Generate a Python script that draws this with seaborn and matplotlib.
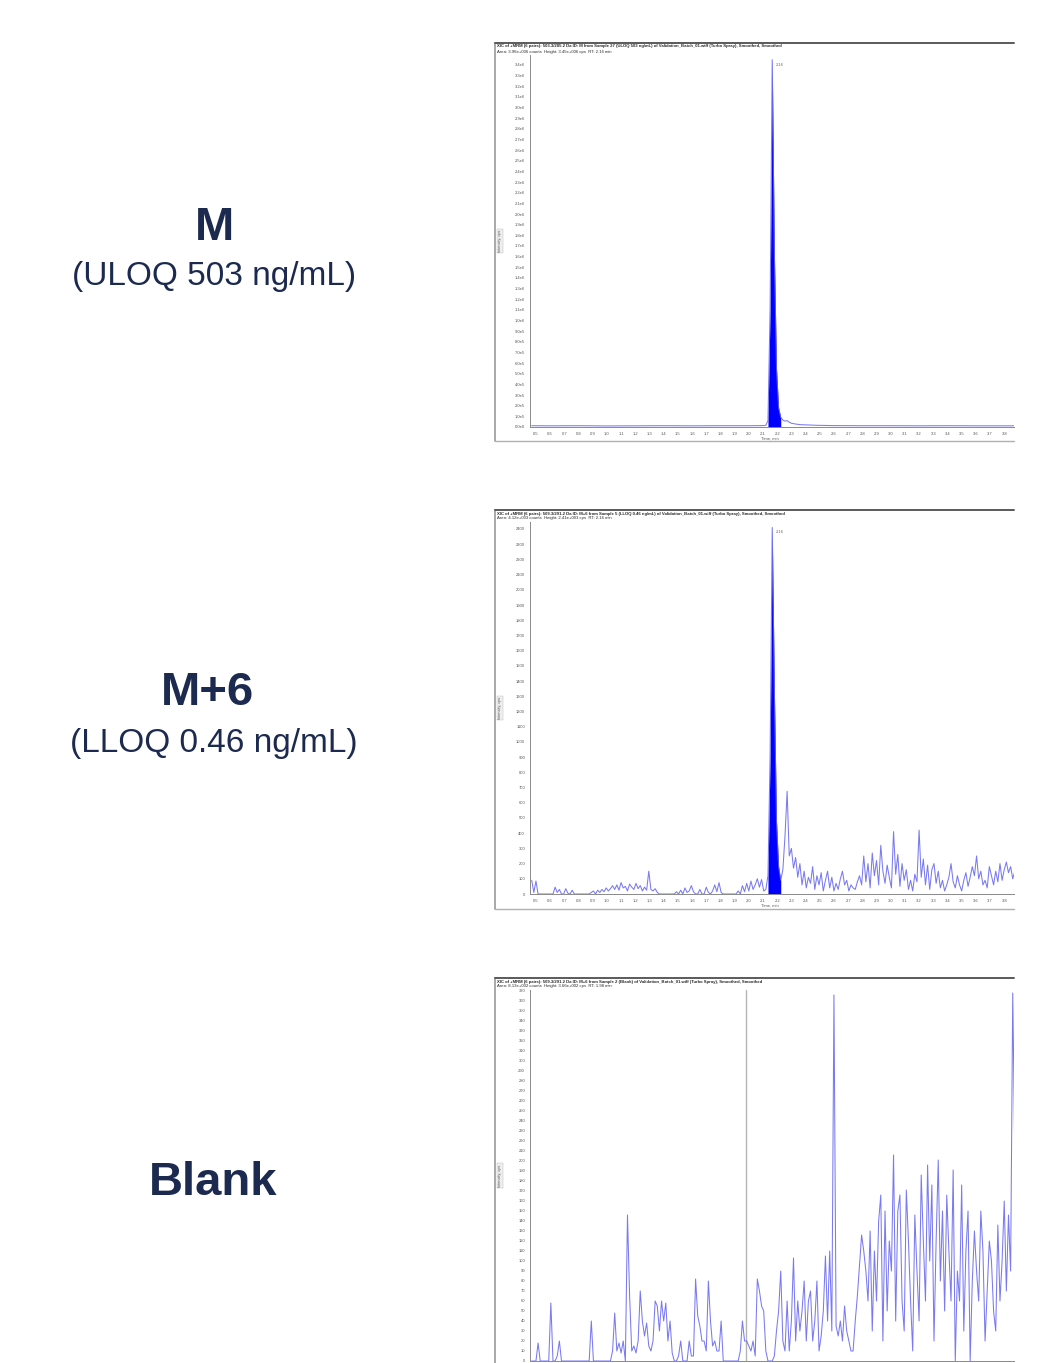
import numpy as np
import matplotlib
matplotlib.use("Agg")
import matplotlib.pyplot as plt
import seaborn as sns
from matplotlib.lines import Line2D
from matplotlib.ticker import FuncFormatter, MultipleLocator

# ---------------------------------------------------------------- data
# scan grid shared by the M+6 and Blank traces (min)
scan_times = np.round(0.47 + 0.015 * np.arange(228), 3)

# M, ULOQ: sparse trace (baseline + integrated peak), intensity in cps
m_times = [0.47, 0.60, 0.80, 1.00, 1.20, 1.40, 1.60, 1.80, 2.00, 2.105,
           2.12, 2.135, 2.15, 2.165, 2.18, 2.195, 2.21, 2.225, 2.24, 2.255,
           2.27, 2.285, 2.30, 2.33, 2.36, 2.40, 2.48, 2.60, 2.80, 3.00,
           3.20, 3.40, 3.60, 3.875]
m_values = [1.2e4, 1.1e4, 1.2e4, 1.0e4, 1.1e4, 1.2e4, 1.1e4, 1.2e4, 1.2e4, 1.3e4,
            1.6e4, 6.0e4, 1.1e6, 3.45e6, 1.65e6, 5.5e5, 1.8e5, 9.0e4, 6.5e4, 5.5e4,
            6.0e4, 4.5e4, 3.5e4, 2.8e4, 2.2e4, 2.0e4, 1.6e4, 1.3e4, 1.2e4, 1.2e4,
            1.1e4, 1.2e4, 1.1e4, 1.1e4]

# M+6, LLOQ (cps)
m6_values = [
    90, 10, 85, 0, 0, 0, 0, 0, 0, 0,
    0, 45, 10, 30, 0, 0, 35, 5, 0, 25,
    0, 0, 0, 0, 0, 0, 0, 0, 10, 20,
    0, 25, 10, 30, 15, 40, 20, 35, 55, 30,
    60, 25, 75, 40, 50, 20, 65, 45, 30, 70,
    35, 55, 20, 45, 25, 150, 30, 20, 35, 10,
    0, 0, 0, 0, 0, 0, 0, 0, 15, 0,
    25, 0, 40, 10, 20, 55, 15, 0, 0, 30,
    0, 0, 45, 10, 0, 20, 60, 15, 75, 10,
    0, 0, 0, 0, 0, 0, 0, 20, 0, 55,
    15, 70, 20, 85, 30, 60, 100, 45, 95, 20,
    30, 120, 900, 2410, 1350, 480, 180, 90, 160, 380,
    675, 250, 300, 170, 240, 110, 200, 60, 150, 40,
    110, 70, 180, 30, 120, 60, 140, 20, 90, 150,
    40, 110, 20, 70, 30, 100, 150, 60, 90, 20,
    60, 40, 30, 80, 120, 60, 250, 80, 200, 40,
    270, 120, 220, 60, 320, 150, 70, 190, 110, 40,
    410, 130, 260, 50, 200, 90, 160, 30, 90, 20,
    130, 80, 420, 110, 230, 60, 190, 30, 160, 200,
    70, 150, 40, 90, 20, 60, 110, 200, 80, 40,
    120, 60, 20, 90, 140, 50, 110, 180, 120, 250,
    100, 150, 60, 90, 40, 180, 120, 60, 150, 80,
    200, 90, 160, 210, 140, 180, 100, 150,
]

# Blank (cps)
blank_values = [
    0, 0, 0, 18, 0, 0, 0, 0, 0, 58,
    0, 0, 5, 20, 0, 0, 0, 0, 0, 0,
    0, 0, 0, 0, 0, 0, 0, 0, 40, 0,
    0, 0, 0, 0, 0, 0, 0, 0, 10, 48,
    10, 18, 8, 20, 0, 146, 65, 10, 15, 8,
    20, 70, 40, 25, 38, 15, 10, 20, 60, 55,
    30, 60, 40, 58, 20, 40, 8, 0, 0, 5,
    20, 0, 0, 0, 20, 5, 5, 82, 45, 35,
    20, 20, 10, 80, 40, 15, 20, 10, 10, 40,
    0, 0, 0, 0, 0, 0, 0, 0, 10, 40,
    20, 20, 15, 10, 20, 5, 82, 70, 55, 50,
    10, 0, 0, 0, 5, 30, 50, 90, 20, 10,
    60, 10, 40, 103, 20, 60, 30, 50, 80, 20,
    60, 70, 20, 40, 80, 10, 25, 50, 105, 40,
    110, 30, 366, 35, 25, 40, 20, 55, 30, 20,
    10, 10, 40, 65, 95, 126, 110, 90, 60, 130,
    30, 110, 60, 140, 166, 20, 150, 50, 120, 90,
    206, 40, 150, 166, 60, 30, 171, 120, 60, 10,
    146, 90, 40, 186, 120, 60, 196, 100, 176, 20,
    120, 201, 80, 150, 50, 166, 110, 60, 191, 0,
    90, 60, 176, 30, 110, 150, 0, 80, 130, 90,
    60, 150, 110, 20, 70, 120, 100, 50, 30, 136,
    60, 100, 160, 70, 146, 90, 368, 200,
]

# integration windows (min) and retention-time labels
m_window = (2.135, 2.225)
m6_window = (2.135, 2.225)
apex_rt = 2.165
apex_label = "2.16"
blank_rt_marker = 1.98

# ---------------------------------------------------------------- figure
sns.set_style("white")
plt.rcParams['font.family'] = ['Liberation Sans', 'DejaVu Sans']

W, H = 1049, 1363
fig = plt.figure(figsize=(W / 100, H / 100), dpi=100)


def fx(px):
    return px / W


def fy(py):
    return 1 - py / H


TRACE = "#6262f0"
FILL = "#0000ff"
NAVY = "#1b2a4e"
XLIM = (0.458, 0.458 + 484 / 141.9)


def sci_fmt(v, pos):
    if abs(v) < 1e-9:
        return "0.0e0"
    e = int(np.floor(np.log10(abs(v)) + 1e-9))
    return f"{v / 10 ** e:.1f}e{e}"


def int_fmt(v, pos):
    return f"{v:.0f}"


def frame(top, bottom, header1, header2):
    # panel outline: left, top and bottom edges
    fig.add_artist(Line2D([fx(495), fx(495)], [fy(top), fy(bottom)],
                          transform=fig.transFigure, color="#9a9a9a", lw=1.2))
    fig.add_artist(Line2D([fx(495), fx(1014)], [fy(top), fy(top)],
                          transform=fig.transFigure, color="#5a5a5a", lw=1.4))
    if bottom < H:
        fig.add_artist(Line2D([fx(495), fx(1014)], [fy(bottom), fy(bottom)],
                              transform=fig.transFigure, color="#b0b0b0", lw=1.0))
    fig.text(fx(497), fy(top + 3.5), header1, fontsize=3.1, color="#2a2a2a",
             fontweight="bold", ha="left", va="center")
    fig.text(fx(497), fy(top + 8.5), header2, fontsize=3.1, color="#2a2a2a",
             ha="left", va="center")


def make_axes(top, bottom, ylim, step, fmt, show_x=True):
    ax = fig.add_axes([fx(530), fy(bottom), fx(1014) - fx(530), (bottom - top) / H])
    ax.set_xlim(*XLIM)
    ax.set_ylim(*ylim)
    ax.yaxis.set_major_locator(MultipleLocator(step))
    ax.yaxis.set_major_formatter(FuncFormatter(fmt))
    ax.xaxis.set_major_locator(MultipleLocator(0.1))
    ax.xaxis.set_major_formatter(FuncFormatter(lambda v, p: f"{v:.1f}"))
    ax.tick_params(axis="both", labelsize=3, length=2, width=0.4,
                   colors="#777777", labelcolor="#555555", pad=1.5)
    if not show_x:
        ax.tick_params(axis="x", labelbottom=False)
    for s in ("top", "right"):
        ax.spines[s].set_visible(False)
    for s in ("left", "bottom"):
        ax.spines[s].set_color("#8a8a8a")
        ax.spines[s].set_linewidth(0.7)
    ax.patch.set_alpha(0)
    # y-axis title
    fig.text(fx(500), fy((top + bottom) / 2), "Intensity, cps", fontsize=2.8,
             color="#555555", rotation=90, ha="center", va="center",
             bbox=dict(boxstyle="square,pad=0.3", fc="#eeeeee", ec="#bbbbbb", lw=0.3))
    if show_x:
        fig.text(fx(770), fy(bottom + 12), "Time, min", fontsize=3,
                 color="#555555", ha="center", va="center")
    return ax


def draw_trace(ax, t, y, window=None, label=None):
    t = np.asarray(t, dtype=float)
    y = np.asarray(y, dtype=float)
    if window is not None:
        sel = (t >= window[0] - 1e-9) & (t <= window[1] + 1e-9)
        ax.fill_between(t[sel], 0, y[sel], color=FILL, lw=0, zorder=2)
    sns.lineplot(x=t, y=y, ax=ax, color=TRACE, linewidth=0.75, alpha=0.85,
                 estimator=None, sort=False, zorder=3)
    if label is not None:
        k = int(np.argmax(y))
        ax.annotate(label, xy=(t[k], y[k]), xytext=(2.5, -3.5),
                    textcoords="offset points", fontsize=3, color="#666666",
                    ha="left", va="center")
    ax.set_xlabel("")
    ax.set_ylabel("")


# ---- panel 1: M (ULOQ)
frame(43, 441,
      "XIC of +MRM (6 pairs): 503.3/285.2 Da ID: M from Sample 27 (ULOQ 503 ng/mL) of "
      "Validation_Batch_01.wiff (Turbo Spray), Smoothed, Smoothed",
      "Area: 3.96e+006 counts  Height: 3.45e+006 cps  RT: 2.16 min")
ax1 = make_axes(55, 427, (0, 3.4e6 + 10 / 10.65 * 1e5), 1e5, sci_fmt)
draw_trace(ax1, m_times, m_values, window=m_window, label=apex_label)

# ---- panel 2: M+6 (LLOQ)
frame(510, 909,
      "XIC of +MRM (6 pairs): 509.3/291.2 Da ID: M+6 from Sample 5 (LLOQ 0.46 ng/mL) of "
      "Validation_Batch_01.wiff (Turbo Spray), Smoothed, Smoothed",
      "Area: 4.12e+003 counts  Height: 2.41e+003 cps  RT: 2.16 min")
ax2 = make_axes(522, 894, (0, 2400 + 7 / 15.21 * 100), 100, int_fmt)
draw_trace(ax2, scan_times, m6_values, window=m6_window, label=apex_label)

# ---- panel 3: Blank
frame(978, H + 5,
      "XIC of +MRM (6 pairs): 509.3/291.2 Da ID: M+6 from Sample 2 (Blank) of "
      "Validation_Batch_01.wiff (Turbo Spray), Smoothed, Smoothed",
      "Area: 8.13e+002 counts  Height: 3.66e+002 cps  RT: 1.98 min")
ax3 = make_axes(990, 1361, (0, 371), 10, int_fmt, show_x=False)
ax3.axvline(blank_rt_marker, color="#b5b5b5", lw=1.0, zorder=1)
draw_trace(ax3, scan_times, blank_values)

# ---- left-hand labels
fig.text(fx(214), fy(240), "M", fontsize=34, fontweight="bold", color=NAVY,
         ha="center", va="baseline")
fig.text(fx(214), fy(285), "(ULOQ 503 ng/mL)", fontsize=24, color=NAVY,
         ha="center", va="baseline")
fig.text(fx(208), fy(705), "M+6", fontsize=34, fontweight="bold", color=NAVY,
         ha="center", va="baseline")
fig.text(fx(214), fy(752), "(LLOQ 0.46 ng/mL)", fontsize=24, color=NAVY,
         ha="center", va="baseline")
fig.text(fx(213), fy(1195), "Blank", fontsize=34, fontweight="bold", color=NAVY,
         ha="center", va="baseline")

fig.savefig("out.png", dpi=100, facecolor="white")
